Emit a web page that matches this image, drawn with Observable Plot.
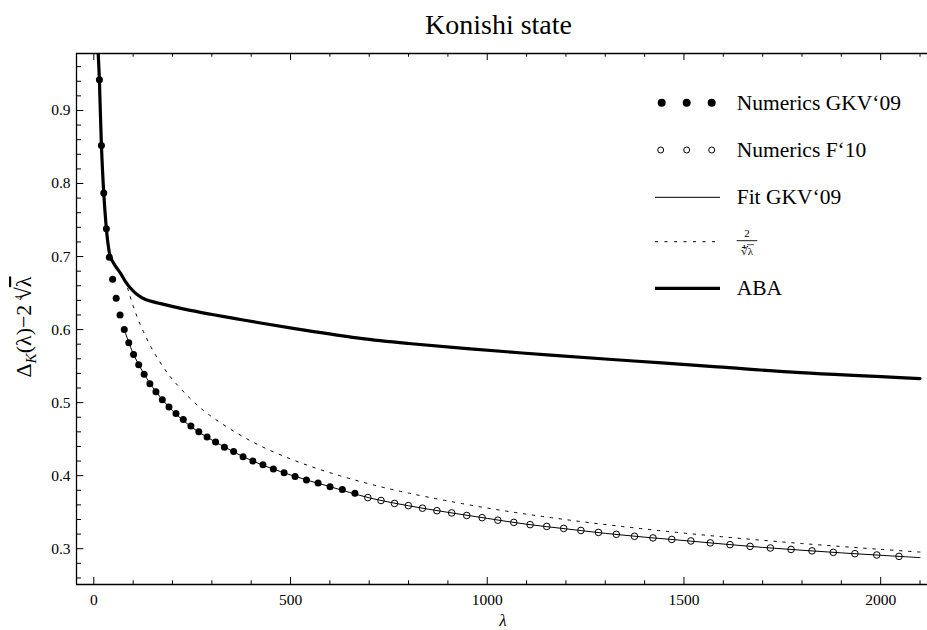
<!DOCTYPE html>
<html><head><meta charset="utf-8">
<script src="https://cdn.jsdelivr.net/npm/d3@7"></script>
<script src="https://cdn.jsdelivr.net/npm/@observablehq/plot@0.6"></script>
<style>
body{margin:0;background:#fff;}
#title{height:44px;line-height:50px;font-family:"Liberation Serif","Times New Roman",Times,serif;font-size:28px;text-align:center;padding-left:70px;width:857px;color:#000;overflow:hidden;}
#chart svg{display:block;}
</style></head>
<body><div id="title">Konishi state</div><div id="chart"></div>
<script>
// Numerics GKV'09 (filled dots)
const gkvLambda = [14.21,19.34,25.27,31.98,39.48,47.77,56.85,66.72,77.38,88.83,101.06,114.09,127.91,142.52,157.91,174.10,191.08,208.84,227.40,246.74,266.88,287.80,309.51,332.02,355.31,379.39,404.26,429.92,456.37,483.61,511.64,540.46,570.07,600.48,631.66,663.64];
const gkvValue = [0.942,0.852,0.787,0.738,0.699,0.669,0.643,0.620,0.600,0.582,0.566,0.552,0.539,0.526,0.515,0.504,0.494,0.485,0.477,0.468,0.460,0.453,0.446,0.439,0.433,0.426,0.420,0.415,0.409,0.404,0.399,0.394,0.390,0.385,0.381,0.376];
// Numerics F'10 (open circles)
const f10Lambda = [696.40,729.96,764.30,799.44,835.37,872.08,909.59,947.88,986.96,1026.84,1067.50,1108.95,1151.20,1194.23,1238.05,1282.66,1328.06,1374.25,1421.23,1469.00,1517.55,1566.90,1617.04,1667.96,1719.68,1772.18,1825.48,1879.56,1934.45,1990.09,2046.53];
const f10Value = [0.370,0.366,0.362,0.359,0.3555,0.352,0.349,0.3455,0.3425,0.339,0.336,0.333,0.3305,0.3278,0.325,0.3223,0.3197,0.317,0.3148,0.3127,0.3106,0.308,0.3056,0.3032,0.301,0.299,0.297,0.295,0.2932,0.2914,0.2895];
// Fit GKV'09 (thin line)
const fitLambda = [77.38,101,128,158,200,250,300,400,500,600,700,800,900,1000,1100,1200,1300,1400,1500,1600,1700,1800,1900,2000,2100];
const fitValue = [0.600,0.566,0.539,0.515,0.489,0.466,0.449,0.421,0.401,0.385,0.3697,0.3588,0.3498,0.3415,0.3335,0.3272,0.3210,0.3158,0.3112,0.3064,0.3018,0.2979,0.2943,0.2910,0.2878];
// 2/λ^(1/4) (dotted)
const quartLambda = [80,88,100,110,120,150,175,200,250,300,400,500,600,700,800,1000,1200,1400,1600,1800,2000,2100];
const quartValue = [0.6687,0.6530,0.6325,0.6176,0.6043,0.5715,0.5499,0.5318,0.5030,0.4806,0.4472,0.4229,0.4041,0.3888,0.3761,0.3557,0.3398,0.3270,0.3162,0.3071,0.2991,0.2954];
// ABA (thick line)
const abaLambda = [11.2,14.2,19.35,25.27,31.98,36,42.4,55,68,80,93,110,130,170,230,297,360,424,551,678,800,949,1161,1373,1585,1796,2100];
const abaValue = [0.978,0.942,0.852,0.787,0.738,0.718,0.699,0.687,0.677,0.666,0.657,0.648,0.6415,0.6355,0.628,0.621,0.615,0.609,0.598,0.588,0.581,0.574,0.565,0.557,0.549,0.541,0.533];

const xMajorTicks = [0,500,1000,1500,2000];
const xMinorTicks = [100,200,300,400,600,700,800,900,1100,1200,1300,1400,1600,1700,1800,1900,2100];
const yMajorTicks = [0.3,0.4,0.5,0.6,0.7,0.8,0.9];
const yMinorTicks = [0.26,0.28,0.32,0.34,0.36,0.38,0.42,0.44,0.46,0.48,0.52,0.54,0.56,0.58,0.62,0.64,0.66,0.68,0.72,0.74,0.76,0.78,0.82,0.84,0.86,0.88,0.92,0.94,0.96];

const legendLabels = ["Numerics GKV\u201809","Numerics F\u201810","Fit GKV\u201809","2/\u221C\u03BB","ABA"];

const W=927, H=586, mT=9, mB=46, mL=76, mR=0;
const plotH=H-mT-mB, plotW=W-mL-mR;
const xDom=[-44,2119], yDom=[0.251,0.978];
const zip=(xs,ys)=>xs.map((x,i)=>({x,y:ys[i]}));
const FONT='"Liberation Serif","Times New Roman",Times,serif';

const chart = Plot.plot({
  width:W, height:H, marginTop:mT, marginBottom:mB, marginLeft:mL, marginRight:mR,
  x:{domain:xDom,label:null}, y:{domain:yDom,label:null},
  style:{fontSize:"15.5px",background:"#fff",color:"#000"},
  marks:[
    Plot.line(zip(quartLambda,quartValue),{x:"x",y:"y",stroke:"#000",strokeWidth:1,strokeDasharray:"2.5,6.5",curve:"catmull-rom",clip:true}),
    Plot.line(zip(fitLambda,fitValue),{x:"x",y:"y",stroke:"#000",strokeWidth:1,curve:"catmull-rom",clip:true}),
    Plot.line(zip(abaLambda,abaValue),{x:"x",y:"y",stroke:"#000",strokeWidth:3.2,curve:"catmull-rom",clip:true}),
    Plot.dot(zip(f10Lambda,f10Value),{x:"x",y:"y",r:3.3,stroke:"#000",fill:"none",strokeWidth:1}),
    Plot.dot(zip(gkvLambda,gkvValue),{x:"x",y:"y",r:3.5,fill:"#000"}),
    Plot.ruleY([yDom[0]],{stroke:"#000",strokeWidth:1.3}),
    Plot.ruleY([yDom[1]],{stroke:"#000",strokeWidth:1.3}),
    Plot.ruleX([xDom[0]],{stroke:"#000",strokeWidth:1.3}),
    Plot.tickX(xMajorTicks,{x:d=>d,stroke:"#000",insetTop:plotH-7}),
    Plot.tickX(xMinorTicks,{x:d=>d,stroke:"#000",insetTop:plotH-3.7}),
    Plot.tickX(xMajorTicks,{x:d=>d,stroke:"#000",insetBottom:plotH-7}),
    Plot.tickX(xMinorTicks,{x:d=>d,stroke:"#000",insetBottom:plotH-3.7}),
    Plot.tickY(yMajorTicks,{y:d=>d,stroke:"#000",insetRight:plotW-7.3}),
    Plot.tickY(yMinorTicks,{y:d=>d,stroke:"#000",insetRight:plotW-5}),
    Plot.axisX({ticks:xMajorTicks,tickSize:0,tickPadding:9,tickFormat:d=>String(d),fontSize:15.5,label:null}),
    Plot.axisY({ticks:yMajorTicks,tickSize:0,tickPadding:6,tickFormat:d=>d.toFixed(1),fontSize:15.5,label:null})
  ]
});
document.getElementById("chart").appendChild(chart);

const svg = d3.select(chart);
svg.attr("font-family",FONT).style("font-family",FONT);
// y-axis label
const yl = svg.append("text").attr("transform","translate(31,283) rotate(-90)")
  .attr("text-anchor","middle").attr("font-size",22).attr("fill","#000");
yl.append("tspan").text("\u0394");
yl.append("tspan").attr("font-size",15).attr("font-style","italic").attr("dy",5).text("K");
yl.append("tspan").attr("dy",-5).text("(\u03BB)\u22122\u2009");
yl.append("tspan").attr("font-size",10).attr("dy",-9).text("4");
yl.append("tspan").attr("dy",9).attr("dx",-4).text("\u221A");
yl.append("tspan").attr("text-decoration","overline").text("\u03BB");

// x-axis label
svg.append("text").attr("x",503).attr("y",582).attr("text-anchor","middle")
  .attr("font-size",17).attr("font-style","italic").text("\u03BB");

// legend
const lg = svg.append("g").attr("fill","#000").attr("text-anchor","start");
const rowY=[58.7,106,153.3,197.7,244.3];
const txX=736.7;
[661.7,686.7,711.7].forEach(cx=>lg.append("circle").attr("cx",cx).attr("cy",rowY[0]).attr("r",4).attr("fill","#000"));
[660.7,686.7,711.7].forEach(cx=>lg.append("circle").attr("cx",cx).attr("cy",rowY[1]).attr("r",3).attr("fill","none").attr("stroke","#000"));
lg.append("line").attr("x1",655).attr("x2",720).attr("y1",rowY[2]).attr("y2",rowY[2]).attr("stroke","#000").attr("stroke-width",1);
lg.append("line").attr("x1",655).attr("x2",720).attr("y1",rowY[3]).attr("y2",rowY[3]).attr("stroke","#000").attr("stroke-width",1).attr("stroke-dasharray","3,6.5");
lg.append("line").attr("x1",655).attr("x2",720).attr("y1",rowY[4]).attr("y2",rowY[4]).attr("stroke","#000").attr("stroke-width",3.2);
[0,1,2,4].forEach(i=>lg.append("text").attr("x",txX).attr("y",rowY[i]+7).attr("font-size",21.5).attr("text-anchor","start").text(legendLabels[i]));
// fraction 2 / ∜λ
lg.append("text").attr("x",747).attr("y",rowY[3]-5).attr("text-anchor","middle").attr("font-size",11).text("2");
lg.append("line").attr("x1",txX).attr("x2",757.3).attr("y1",rowY[3]-1).attr("y2",rowY[3]-1).attr("stroke","#000").attr("stroke-width",0.9);
lg.append("text").attr("x",747).attr("y",rowY[3]+13).attr("text-anchor","middle").attr("font-size",11).text("\u221C\u03BB");
lg.append("line").attr("x1",747).attr("x2",754).attr("y1",rowY[3]+3).attr("y2",rowY[3]+3).attr("stroke","#000").attr("stroke-width",0.7);

// force serif font on every text
svg.selectAll("text").attr("font-family",FONT).style("font-family",FONT);
</script></body></html>
